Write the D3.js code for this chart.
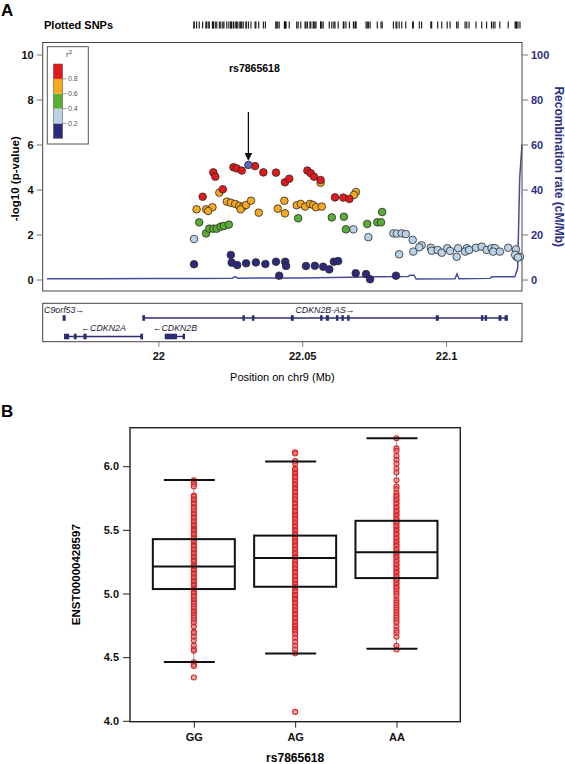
<!DOCTYPE html>
<html><head><meta charset="utf-8">
<script src="https://cdn.jsdelivr.net/npm/d3@7"></script>
<style>
body{margin:0;background:#fff}
svg{display:block}
text{font-family:"Liberation Sans",Arial,Helvetica,sans-serif}
</style>
</head><body>
<svg id="chart" width="565" height="764"></svg>
<script>
// ---------------- DATA: panel A (regional association) ----------------
const ldBinLabels = ["0.2","0.4","0.6","0.8"];
const ldBinEdges = [0, 0.2, 0.4, 0.6, 0.8, 1.0];
const ldColors = ["#2b2a7c","#b9d2e8","#5aae32","#f6a81f","#e2191b"];
const leadColor = "#5a67b8";

// [position (Mb), -log10 p] by r2 bin
const snpsR2bin0 = [[22.0124,0.68],[22.0252,1.09],[22.0255,0.75],[22.0274,0.64],[22.0305,0.72],[22.0339,0.76],[22.0372,0.69],[22.0409,0.79],[22.0441,0.79],[22.0444,0.60],[22.0420,0.17],[22.0513,0.60],[22.0544,0.61],[22.0573,0.57],[22.0594,0.45],[22.0610,0.79],[22.0625,0.82],[22.0686,0.28],[22.0722,0.24],[22.0736,0.01],[22.0826,0.17]];
const snpsR2bin1 = [[22.0124,1.80],[22.0678,2.23],[22.0730,1.88],[22.0817,2.05],[22.0829,2.04],[22.0846,2.05],[22.0860,2.02],[22.0837,1.12],[22.0884,1.76],[22.0886,1.24],[22.0915,1.52],[22.0907,1.43],[22.0947,1.41],[22.0950,1.28],[22.0971,1.31],[22.0985,1.19],[22.1004,1.39],[22.1014,1.27],[22.1037,1.01],[22.1042,1.39],[22.1072,1.39],[22.1066,1.24],[22.1080,1.31],[22.1104,1.41],[22.1124,1.46],[22.1141,1.31],[22.1158,1.39],[22.1170,1.39],[22.1164,1.24],[22.1187,1.24],[22.1216,1.41],[22.1243,1.34],[22.1245,1.01],[22.1257,1.01],[22.1240,1.10],[22.1250,0.98]];
const snpsR2bin2 = [[22.0142,2.54],[22.0166,2.05],[22.0177,2.26],[22.0191,2.26],[22.0203,2.26],[22.0217,2.35],[22.0228,2.38],[22.0245,2.44],[22.0486,2.72],[22.0603,2.76],[22.0645,2.79],[22.0652,2.23],[22.0726,2.47],[22.0761,2.54],[22.0774,2.54],[22.0778,3.00]];
const snpsR2bin3 = [[22.0212,3.86],[22.0133,3.12],[22.0166,3.12],[22.0188,3.21],[22.0173,3.04],[22.0238,3.46],[22.0252,3.41],[22.0267,3.36],[22.0281,3.27],[22.0295,3.24],[22.0286,3.12],[22.0305,3.31],[22.0322,3.50],[22.0349,2.97],[22.0415,3.15],[22.0438,3.50],[22.0440,2.94],[22.0481,3.30],[22.0495,3.36],[22.0510,3.24],[22.0527,3.36],[22.0538,3.31],[22.0548,3.21],[22.0568,3.24],[22.0564,4.30],[22.0687,3.89],[22.0680,3.76]];
const snpsR2bin4 = [[22.0191,4.76],[22.0198,4.57],[22.0261,4.99],[22.0272,4.94],[22.0290,4.84],[22.0336,5.04],[22.0365,4.76],[22.0409,4.75],[22.0440,4.32],[22.0455,4.48],[22.0518,4.84],[22.0530,4.72],[22.0541,4.57],[22.0564,4.42],[22.0224,4.01],[22.0154,3.68],[22.0614,3.65],[22.0643,3.64],[22.0664,3.58]];
const leadName = "rs7865618";
const leadPos = 22.0313;
const leadLogP = 5.09;

// recombination rate (cM/Mb)
const recombPos  = [21.9613,21.9797,21.9971,22.0124,22.0256,22.0267,22.0277,22.0492,22.0666,22.0770,22.0868,22.0875,22.0889,22.0896,22.1031,22.1038,22.1045,22.1153,22.1160,22.1239,22.1249,22.1256,22.1264];
const recombRate = [0.3,0.3,0.4,0.5,0.6,1.3,0.6,0.7,1.0,1.2,1.3,1.9,1.9,0.2,0.3,2.5,0.3,0.5,1.2,1.2,5,45,60];

// genes
const geneNames  = ["C9orf53","CDKN2B-AS","CDKN2A","CDKN2B"];
const geneStart  = [21.9670,21.9947,21.9675,22.0025];
const geneEnd    = [21.9675,22.1212,21.9944,22.0090];
const geneStrand = ["+","+","-","-"];
const geneRow    = [0,0,1,1];
const geneExons  = [
  [[21.9670,21.9675]],
  [[21.9947,21.9951],[22.0295,22.0298],[22.0328,22.0331],[22.0463,22.0468],[22.0565,22.0568],[22.0585,22.0590],[22.0620,22.0623],[22.0639,22.0642],[22.0659,22.0662],[22.0967,22.0972],[22.1124,22.1127],[22.1137,22.1140],[22.1185,22.1190],[22.1206,22.1212]],
  [[21.9675,21.9687],[21.9709,21.9713],[21.9742,21.9748],[21.9940,21.9944]],
  [[22.0025,22.0062],[22.0087,22.0090]]
];

const xTicksA = [22, 22.05, 22.1];
const yTicksA = [0,2,4,6,8,10];
const yTicksR = [0,20,40,60,80,100];

// ---------------- DATA: panel B (expression by genotype) ----------------
const genotypes  = ["GG","AG","AA"];
const boxQ1      = [5.035,5.053,5.121];
const boxMedian  = [5.212,5.278,5.325];
const boxQ3      = [5.427,5.455,5.571];
const whiskerLow = [4.462,4.529,4.566];
const whiskerHigh= [5.892,6.036,6.220];
const exprGG = [5.89,5.88,5.86,5.84,5.77,5.76,5.74,5.73,5.71,5.70,5.68,5.67,5.65,5.63,5.62,5.60,5.59,5.57,5.56,5.54,5.53,5.51,5.50,5.49,5.47,5.46,5.44,5.43,5.41,5.40,5.38,5.37,5.35,5.34,5.32,5.31,5.29,5.28,5.26,5.25,5.23,5.22,5.21,5.19,5.18,5.16,5.15,5.13,5.12,5.10,5.09,5.07,5.06,5.04,5.03,5.01,5.00,4.98,4.97,4.95,4.93,4.92,4.90,4.88,4.86,4.85,4.83,4.81,4.79,4.77,4.74,4.70,4.69,4.66,4.63,4.59,4.56,4.55,4.46,4.44,4.43,4.34];
const exprAG = [6.11,6.10,6.04,6.02,5.98,5.97,5.95,5.94,5.92,5.91,5.89,5.88,5.86,5.85,5.83,5.82,5.80,5.79,5.77,5.76,5.74,5.73,5.71,5.70,5.68,5.67,5.65,5.64,5.62,5.61,5.59,5.58,5.56,5.55,5.53,5.52,5.50,5.49,5.47,5.46,5.44,5.43,5.41,5.40,5.38,5.37,5.35,5.34,5.32,5.31,5.29,5.28,5.26,5.25,5.23,5.22,5.20,5.19,5.17,5.16,5.14,5.13,5.11,5.10,5.08,5.07,5.05,5.04,5.02,5.01,4.99,4.98,4.96,4.95,4.93,4.92,4.90,4.89,4.87,4.86,4.84,4.83,4.81,4.80,4.78,4.77,4.75,4.74,4.72,4.71,4.70,4.68,4.65,4.62,4.59,4.56,4.53,4.07];
const exprAA = [6.22,6.14,6.12,6.08,6.05,6.02,5.98,5.95,5.89,5.84,5.82,5.79,5.77,5.76,5.74,5.73,5.71,5.70,5.68,5.67,5.65,5.64,5.62,5.61,5.59,5.58,5.56,5.55,5.53,5.52,5.50,5.49,5.47,5.46,5.44,5.43,5.41,5.40,5.38,5.37,5.35,5.34,5.32,5.31,5.29,5.28,5.26,5.25,5.23,5.22,5.20,5.19,5.17,5.16,5.14,5.13,5.11,5.10,5.08,5.07,5.05,5.04,5.02,5.00,4.98,4.95,4.93,4.91,4.89,4.87,4.85,4.83,4.81,4.79,4.77,4.74,4.71,4.69,4.66,4.59,4.56];
const yTicksB = [4.0,4.5,5.0,5.5,6.0];

// ---------------- DRAWING ----------------
const svg = d3.select("#chart");
const FONT = '"Liberation Sans",Arial,Helvetica,sans-serif';
const navyAxis = "#2c2f86";

// ---- Panel A layout
const A = {left:42.7, right:522, top:42.5, bottom:291};
const xA = d3.scaleLinear().domain([21.9598, 22.1264]).range([A.left, A.right]);
const yA = d3.scaleLinear().domain([0,10]).range([279.5, 54.5]);
const yR = d3.scaleLinear().domain([0,100]).range([279.5, 54.5]);

svg.append("text").attr("x",1).attr("y",16).attr("font-size",17).attr("font-weight","bold").text("A");
svg.append("text").attr("x",44).attr("y",28.5).attr("font-size",11).attr("font-weight","bold").text("Plotted SNPs");

// rug of plotted SNPs
const allSnps = [].concat(snpsR2bin0, snpsR2bin1, snpsR2bin2, snpsR2bin3, snpsR2bin4, [[leadPos, leadLogP]]);
svg.append("g").selectAll("line").data(allSnps).join("line")
  .attr("x1",d=>xA(d[0])).attr("x2",d=>xA(d[0]))
  .attr("y1",21.5).attr("y2",28.5).attr("stroke","#111").attr("stroke-width",1.1);

// recombination line (drawn first, behind points)
const recomb = recombPos.map((p,i)=>[p, recombRate[i]]);
svg.append("path").datum(recomb)
  .attr("d", d3.line().x(d=>xA(d[0])).y(d=>yR(d[1])))
  .attr("fill","none").attr("stroke","#474c9e").attr("stroke-width",1.5);

// frame
svg.append("rect").attr("x",A.left).attr("y",A.top).attr("width",A.right-A.left).attr("height",A.bottom-A.top)
  .attr("fill","none").attr("stroke","#444").attr("stroke-width",1);

// left axis
const gYA = svg.append("g").attr("transform",`translate(${A.left},0)`)
  .call(d3.axisLeft(yA).tickValues(yTicksA).tickSize(6).tickPadding(3));
gYA.select(".domain").remove();
gYA.selectAll("line").attr("stroke","#777");
gYA.selectAll("text").attr("font-family",FONT).attr("font-size",11).attr("font-weight","bold").attr("fill","#111");
svg.append("text").attr("transform",`translate(19,${(A.top+A.bottom)/2+12}) rotate(-90)`)
  .attr("text-anchor","middle").attr("font-size",11.5).attr("font-weight","bold").text("-log10 (p-value)");

// right axis
const gYR = svg.append("g").attr("transform",`translate(${A.right},0)`)
  .call(d3.axisRight(yR).tickValues(yTicksR).tickSize(6).tickPadding(3));
gYR.select(".domain").remove();
gYR.selectAll("line").attr("stroke","#777");
gYR.selectAll("text").attr("font-family",FONT).attr("font-size",11).attr("font-weight","bold").attr("fill",navyAxis);
svg.append("text").attr("transform",`translate(555,${(A.top+A.bottom)/2}) rotate(90)`)
  .attr("text-anchor","middle").attr("font-size",12).attr("font-weight","bold").attr("fill",navyAxis)
  .text("Recombination rate (cM/Mb)");

// points
const bins = [snpsR2bin0, snpsR2bin1, snpsR2bin2, snpsR2bin3, snpsR2bin4];
bins.forEach((pts,bi)=>{
  svg.append("g").selectAll("circle").data(pts).join("circle")
    .attr("cx",d=>xA(d[0])).attr("cy",d=>yA(d[1])).attr("r",3.8)
    .attr("fill",ldColors[bi]).attr("stroke","#2a2a2a").attr("stroke-width",0.8);
});
svg.append("circle").attr("cx",xA(leadPos)).attr("cy",yA(leadLogP)).attr("r",3.8)
  .attr("fill",leadColor).attr("stroke","#2a2a2a").attr("stroke-width",0.8);

// lead label and arrow
svg.append("defs").append("marker").attr("id","arr").attr("viewBox","0 0 10 10")
  .attr("refX",9).attr("refY",5).attr("markerWidth",6).attr("markerHeight",6).attr("orient","auto")
  .append("path").attr("d","M0,0 L10,5 L0,10 z").attr("fill","#111");
svg.append("line").attr("x1",xA(leadPos)).attr("x2",xA(leadPos)).attr("y1",112).attr("y2",yA(leadLogP)-5)
  .attr("stroke","#111").attr("stroke-width",1.3).attr("marker-end","url(#arr)");
svg.append("text").attr("x",xA(leadPos)+6).attr("y",72).attr("text-anchor","middle")
  .attr("font-size",10.5).attr("font-weight","bold").text(leadName);

// legend
const L = {x:47.3, y:46.7, w:41, h:97.3};
svg.append("rect").attr("x",L.x).attr("y",L.y).attr("width",L.w).attr("height",L.h)
  .attr("fill","#fff").attr("stroke","#555").attr("stroke-width",1);
const yLeg = d3.scaleLinear().domain([0,1]).range([138.3, 64]);
svg.append("g").selectAll("rect").data(ldColors).join("rect")
  .attr("x",53.3).attr("width",9.4)
  .attr("y",(d,i)=>yLeg(ldBinEdges[i+1])).attr("height",(d,i)=>yLeg(ldBinEdges[i])-yLeg(ldBinEdges[i+1]))
  .attr("fill",d=>d);
svg.append("rect").attr("x",53.3).attr("y",yLeg(1)).attr("width",9.4).attr("height",yLeg(0)-yLeg(1))
  .attr("fill","none").attr("stroke","#666").attr("stroke-width",0.6);
ldBinLabels.forEach((lab,i)=>{
  const v = ldBinEdges[i+1];
  svg.append("line").attr("x1",62.7).attr("x2",66.5).attr("y1",yLeg(v)).attr("y2",yLeg(v)).attr("stroke","#777").attr("stroke-width",0.7);
  svg.append("text").attr("x",68).attr("y",yLeg(v)+2.5).attr("font-size",7).attr("fill","#555").text(lab);
});
const r2t = svg.append("text").attr("x",66).attr("y",57).attr("font-size",8).attr("fill","#444");
r2t.append("tspan").text("r");
r2t.append("tspan").attr("dy",-3).attr("font-size",6).text("2");

// gene panel
const G = {top:303.3, bottom:341.7};
svg.append("rect").attr("x",A.left).attr("y",G.top).attr("width",A.right-A.left).attr("height",G.bottom-G.top)
  .attr("fill","none").attr("stroke","#444").attr("stroke-width",1);
const rowY = [318, 336.5];
const geneCol = "#2c2d70";
geneNames.forEach((name,i)=>{
  const gy = rowY[geneRow[i]];
  const g = svg.append("g");
  g.append("line").attr("x1",xA(geneStart[i])).attr("x2",xA(geneEnd[i])).attr("y1",gy).attr("y2",gy)
    .attr("stroke",geneCol).attr("stroke-width",1.4);
  g.selectAll("rect").data(geneExons[i]).join("rect")
    .attr("x",d=>xA(d[0])-0.8).attr("width",d=>Math.max(1.8, xA(d[1])-xA(d[0])+1.6))
    .attr("y",gy-2.8).attr("height",5.6).attr("fill",geneCol);
  const cx = (xA(geneStart[i])+xA(geneEnd[i]))/2;
  g.append("text").attr("x",cx).attr("y",gy-5.2).attr("text-anchor","middle")
    .attr("font-size",8.8).attr("font-style","italic").attr("fill","#1a1a33")
    .text(geneStrand[i]==="+" ? name+"\u2192" : "\u2190"+name);
});

// x axis panel A
const gXA = svg.append("g").attr("transform",`translate(0,${G.bottom})`)
  .call(d3.axisBottom(xA).tickValues(xTicksA).tickSize(5).tickPadding(6).tickFormat(d3.format("")));
gXA.select(".domain").remove();
gXA.selectAll("line").attr("stroke","#777");
gXA.selectAll("text").attr("font-family",FONT).attr("font-size",11).attr("font-weight","bold").attr("fill","#111");
svg.append("text").attr("x",(A.left+A.right)/2).attr("y",381).attr("text-anchor","middle")
  .attr("font-size",11).text("Position on chr9 (Mb)");

// ---- Panel B
svg.append("text").attr("x",1).attr("y",417).attr("font-size",17).attr("font-weight","bold").text("B");
const B = {left:130, right:460.3, top:427.7, bottom:721.7};
const xB = d3.scalePoint().domain(genotypes).range([B.left, B.right]).padding(0.63);
const yB = d3.scaleLinear().domain([4.0, 6.0]).range([720.8, 466.2]);
const boxHalf = 41;

svg.append("rect").attr("x",B.left).attr("y",B.top).attr("width",B.right-B.left).attr("height",B.bottom-B.top)
  .attr("fill","none").attr("stroke","#222").attr("stroke-width",1.4);

const exprAll = [exprGG, exprAG, exprAA];
genotypes.forEach((gt,i)=>{
  const cx = xB(gt);
  svg.append("line").attr("x1",cx).attr("x2",cx).attr("y1",yB(whiskerLow[i])).attr("y2",yB(whiskerHigh[i]))
    .attr("stroke","#999").attr("stroke-width",1);
  svg.append("g").selectAll("circle").data(exprAll[i]).join("circle")
    .attr("cx",cx).attr("cy",d=>yB(d)).attr("r",2.5)
    .attr("fill","rgba(235,120,120,0.6)").attr("stroke","#d8262a").attr("stroke-width",1.1);
  svg.append("rect").attr("x",cx-boxHalf).attr("y",yB(boxQ3[i])).attr("width",boxHalf*2)
    .attr("height",yB(boxQ1[i])-yB(boxQ3[i])).attr("fill","none").attr("stroke","#111").attr("stroke-width",2);
  svg.append("line").attr("x1",cx-boxHalf).attr("x2",cx+boxHalf).attr("y1",yB(boxMedian[i])).attr("y2",yB(boxMedian[i]))
    .attr("stroke","#111").attr("stroke-width",2);
  [whiskerLow[i], whiskerHigh[i]].forEach(w=>{
    svg.append("line").attr("x1",cx-30).attr("x2",cx+21).attr("y1",yB(w)).attr("y2",yB(w))
      .attr("stroke","#111").attr("stroke-width",2);
  });
});

const gYB = svg.append("g").attr("transform",`translate(${B.left},0)`)
  .call(d3.axisLeft(yB).tickValues(yTicksB).tickSize(7).tickPadding(4).tickFormat(d3.format(".1f")));
gYB.select(".domain").remove();
gYB.selectAll("line").attr("stroke","#222");
gYB.selectAll("text").attr("font-family",FONT).attr("font-size",11).attr("font-weight","bold").attr("fill","#111");

const gXB = svg.append("g").attr("transform",`translate(0,${B.bottom})`)
  .call(d3.axisBottom(xB).tickSize(6).tickPadding(6));
gXB.select(".domain").remove();
gXB.selectAll("line").attr("stroke","#222");
gXB.selectAll("text").attr("font-family",FONT).attr("font-size",11).attr("font-weight","bold").attr("fill","#111");

svg.append("text").attr("transform",`translate(80,${(B.top+B.bottom)/2}) rotate(-90)`)
  .attr("text-anchor","middle").attr("font-size",11.5).attr("font-weight","bold").text("ENST00000428597");
svg.append("text").attr("x",(B.left+B.right)/2).attr("y",762).attr("text-anchor","middle")
  .attr("font-size",12).attr("font-weight","bold").text("rs7865618");
</script>
</body></html>
